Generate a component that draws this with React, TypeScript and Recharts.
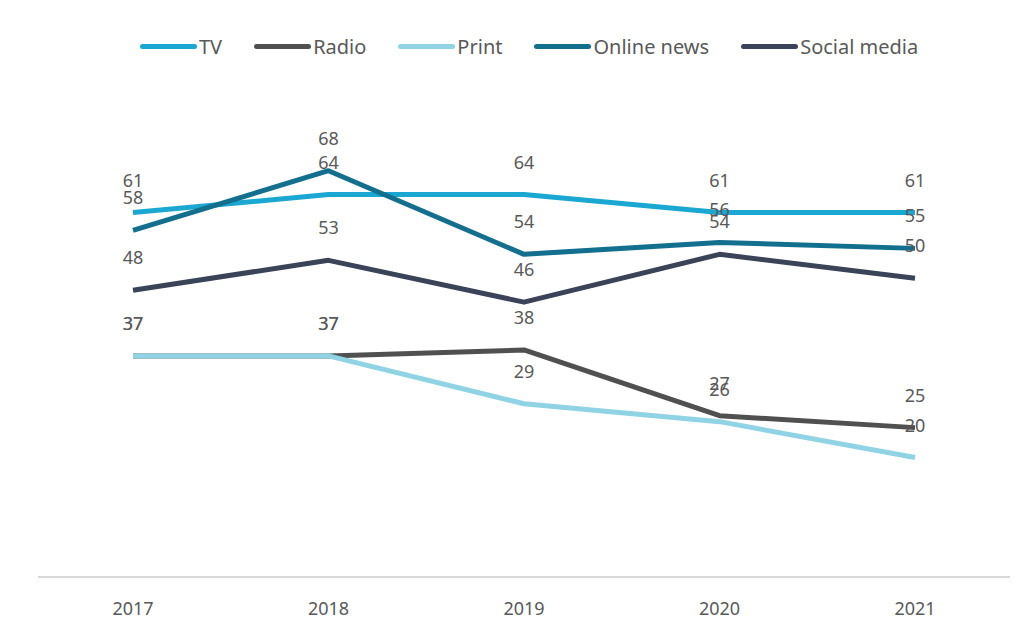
import React from "react";
import { LineChart, Line, XAxis, YAxis, LabelList } from "recharts";

const years = ["2017", "2018", "2019", "2020", "2021"];
const tv = [61, 64, 64, 61, 61];
const radio = [37, 37, 38, 27, 25];
const print = [37, 37, 29, 26, 20];
const onlineNews = [58, 68, 54, 56, 55];
const socialMedia = [48, 53, 46, 54, 50];

const series = [
  { key: "tv", name: "TV", values: tv, color: "#1aa7d2" },
  { key: "radio", name: "Radio", values: radio, color: "#505050" },
  { key: "print", name: "Print", values: print, color: "#8fd3e5" },
  { key: "online", name: "Online news", values: onlineNews, color: "#126f8e" },
  { key: "social", name: "Social media", values: socialMedia, color: "#3b4358" },
];

const data = years.map((y, i) => {
  const row: Record<string, any> = { year: y };
  series.forEach((s) => (row[s.key] = s.values[i]));
  return row;
});

const FONT = "'Noto Sans', 'Open Sans', sans-serif";

const renderLabel = (props: any) => {
  const { x, y, value } = props;
  return (
    <text
      x={x}
      y={y - 26}
      textAnchor="middle"
      fontSize={18}
      fontFamily={FONT}
      fill="#595959"
    >
      {value}
    </text>
  );
};

export default function App() {
  return (
    <div style={{ position: "absolute", left: 0, top: 0, width: 1031, height: 630, background: "#fff" }}>
      <div
        style={{
          position: "absolute",
          left: 140,
          top: 33,
          display: "flex",
          fontFamily: FONT,
          fontSize: 20,
          color: "#595959",
          gap: 32,
          zIndex: 2,
          whiteSpace: "nowrap",
        }}
      >
        {series.map((s) => (
          <div key={s.key} style={{ display: "flex", alignItems: "center" }}>
            <div style={{ width: 57, height: 5, borderRadius: 3, background: s.color, marginRight: 2 }} />
            <span>{s.name}</span>
          </div>
        ))}
      </div>
      <LineChart
        width={1031}
        height={630}
        data={data}
        margin={{ top: 99, right: 21, left: 38, bottom: 0 }}
      >
        <XAxis
          dataKey="year"
          height={53}
          padding={{ left: 95, right: 95 }}
          axisLine={{ stroke: "#d9d9d9", strokeWidth: 2 }}
          tickLine={false}
          tick={{ fontSize: 18, fontFamily: FONT, fill: "#595959" }}
          tickMargin={19}
        />
        <YAxis hide domain={[0, 80]} />
        {series.map((s) => (
          <Line
            key={s.key}
            dataKey={s.key}
            name={s.name}
            stroke={s.color}
            strokeWidth={5}
            dot={false}
            activeDot={false}
            isAnimationActive={false}
            strokeLinejoin="round"
          >
            <LabelList dataKey={s.key} content={renderLabel} />
          </Line>
        ))}
      </LineChart>
    </div>
  );
}
